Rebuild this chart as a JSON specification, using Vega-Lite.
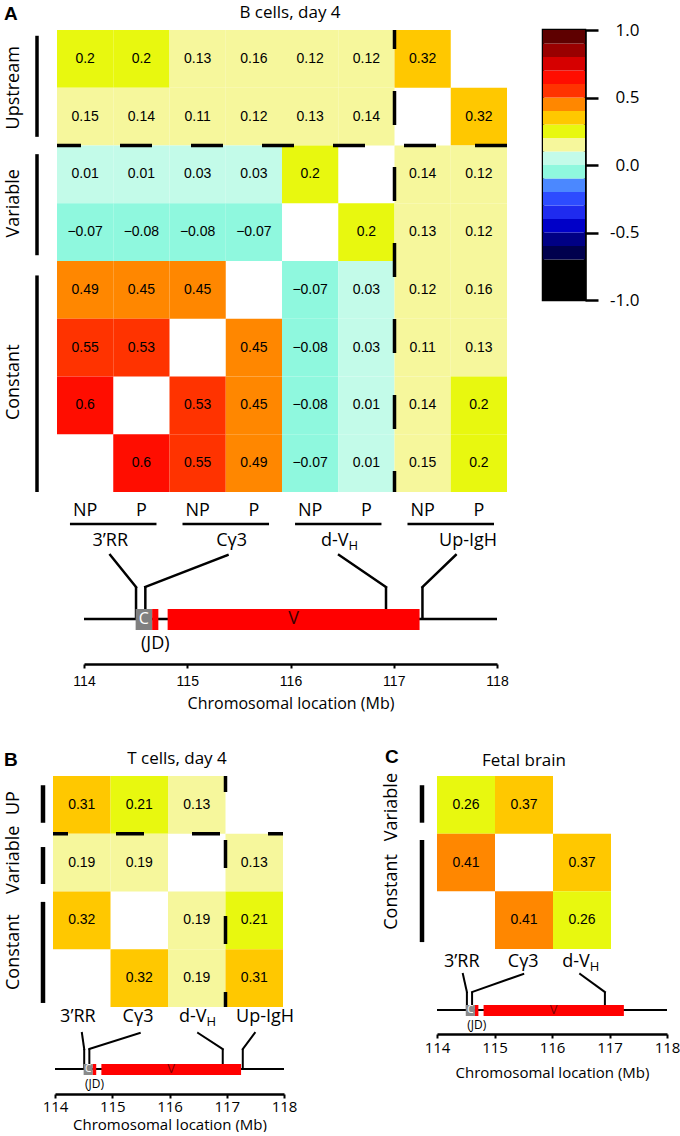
{
"$schema":"https://vega.github.io/schema/vega-lite/v6.json",
"background":"white",
"padding":{"left":0,"top":4,"right":0,"bottom":0},
"config":{
 "view":{"stroke":null},
 "font":"Open Sans",
 "axis":{"labelColor":"black","titleColor":"black","domainColor":"black","tickColor":"black","grid":false,"titleFontWeight":"normal","labelFont":"Open Sans","titleFont":"Open Sans"},
 "title":{"font":"Open Sans","fontWeight":"normal","color":"black","fontSize":17},
 "text":{"color":"black","font":"Open Sans"}
},
"datasets":{
 "heatA":[
  {"row":"Up-IgH P","col":"3’RR NP","r":0.2},{"row":"Up-IgH P","col":"3’RR P","r":0.2},{"row":"Up-IgH P","col":"Cγ3 NP","r":0.13},{"row":"Up-IgH P","col":"Cγ3 P","r":0.16},{"row":"Up-IgH P","col":"d-VH NP","r":0.12},{"row":"Up-IgH P","col":"d-VH P","r":0.12},{"row":"Up-IgH P","col":"Up-IgH NP","r":0.32},
  {"row":"Up-IgH NP","col":"3’RR NP","r":0.15},{"row":"Up-IgH NP","col":"3’RR P","r":0.14},{"row":"Up-IgH NP","col":"Cγ3 NP","r":0.11},{"row":"Up-IgH NP","col":"Cγ3 P","r":0.12},{"row":"Up-IgH NP","col":"d-VH NP","r":0.13},{"row":"Up-IgH NP","col":"d-VH P","r":0.14},{"row":"Up-IgH NP","col":"Up-IgH P","r":0.32},
  {"row":"d-VH P","col":"3’RR NP","r":0.01},{"row":"d-VH P","col":"3’RR P","r":0.01},{"row":"d-VH P","col":"Cγ3 NP","r":0.03},{"row":"d-VH P","col":"Cγ3 P","r":0.03},{"row":"d-VH P","col":"d-VH NP","r":0.2},{"row":"d-VH P","col":"Up-IgH NP","r":0.14},{"row":"d-VH P","col":"Up-IgH P","r":0.12},
  {"row":"d-VH NP","col":"3’RR NP","r":-0.07},{"row":"d-VH NP","col":"3’RR P","r":-0.08},{"row":"d-VH NP","col":"Cγ3 NP","r":-0.08},{"row":"d-VH NP","col":"Cγ3 P","r":-0.07},{"row":"d-VH NP","col":"d-VH P","r":0.2},{"row":"d-VH NP","col":"Up-IgH NP","r":0.13},{"row":"d-VH NP","col":"Up-IgH P","r":0.12},
  {"row":"Cγ3 P","col":"3’RR NP","r":0.49},{"row":"Cγ3 P","col":"3’RR P","r":0.45},{"row":"Cγ3 P","col":"Cγ3 NP","r":0.45},{"row":"Cγ3 P","col":"d-VH NP","r":-0.07},{"row":"Cγ3 P","col":"d-VH P","r":0.03},{"row":"Cγ3 P","col":"Up-IgH NP","r":0.12},{"row":"Cγ3 P","col":"Up-IgH P","r":0.16},
  {"row":"Cγ3 NP","col":"3’RR NP","r":0.55},{"row":"Cγ3 NP","col":"3’RR P","r":0.53},{"row":"Cγ3 NP","col":"Cγ3 P","r":0.45},{"row":"Cγ3 NP","col":"d-VH NP","r":-0.08},{"row":"Cγ3 NP","col":"d-VH P","r":0.03},{"row":"Cγ3 NP","col":"Up-IgH NP","r":0.11},{"row":"Cγ3 NP","col":"Up-IgH P","r":0.13},
  {"row":"3’RR P","col":"3’RR NP","r":0.6},{"row":"3’RR P","col":"Cγ3 NP","r":0.53},{"row":"3’RR P","col":"Cγ3 P","r":0.45},{"row":"3’RR P","col":"d-VH NP","r":-0.08},{"row":"3’RR P","col":"d-VH P","r":0.01},{"row":"3’RR P","col":"Up-IgH NP","r":0.14},{"row":"3’RR P","col":"Up-IgH P","r":0.2},
  {"row":"3’RR NP","col":"3’RR P","r":0.6},{"row":"3’RR NP","col":"Cγ3 NP","r":0.55},{"row":"3’RR NP","col":"Cγ3 P","r":0.49},{"row":"3’RR NP","col":"d-VH NP","r":-0.07},{"row":"3’RR NP","col":"d-VH P","r":0.01},{"row":"3’RR NP","col":"Up-IgH NP","r":0.15},{"row":"3’RR NP","col":"Up-IgH P","r":0.2}
 ],
 "heatB":[
  {"row":"Up-IgH","col":"3’RR","r":0.31},{"row":"Up-IgH","col":"Cγ3","r":0.21},{"row":"Up-IgH","col":"d-VH","r":0.13},
  {"row":"d-VH","col":"3’RR","r":0.19},{"row":"d-VH","col":"Cγ3","r":0.19},{"row":"d-VH","col":"Up-IgH","r":0.13},
  {"row":"Cγ3","col":"3’RR","r":0.32},{"row":"Cγ3","col":"d-VH","r":0.19},{"row":"Cγ3","col":"Up-IgH","r":0.21},
  {"row":"3’RR","col":"Cγ3","r":0.32},{"row":"3’RR","col":"d-VH","r":0.19},{"row":"3’RR","col":"Up-IgH","r":0.31}
 ],
 "heatC":[
  {"row":"d-VH","col":"3’RR","r":0.26},{"row":"d-VH","col":"Cγ3","r":0.37},
  {"row":"Cγ3","col":"3’RR","r":0.41},{"row":"Cγ3","col":"d-VH","r":0.37},
  {"row":"3’RR","col":"Cγ3","r":0.41},{"row":"3’RR","col":"d-VH","r":0.26}
 ],
 "stripA":[{"group":"Upstream","from":0.1,"to":1.85,"mid":1},{"group":"Variable","from":2.15,"to":3.9,"mid":3},{"group":"Constant","from":4.25,"to":8,"mid":6.1}],
 "stripB":[{"group":"UP","from":0.16,"to":0.81,"mid":0.47},{"group":"Variable","from":1.23,"to":1.87,"mid":1.45},{"group":"Constant","from":2.18,"to":3.93,"mid":3.05}],
 "stripC":[{"group":"Variable","from":0.16,"to":0.81,"mid":0.54},{"group":"Constant","from":1.11,"to":2.88,"mid":2.01}],
 "genes":[{"segment":"C","start":114.5,"end":114.66,"mid":114.58},{"segment":"JD","start":114.66,"end":114.72,"mid":114.69},{"segment":"V","start":114.81,"end":117.25,"mid":116.03}],
 "chrom":[{"start":114,"end":118}],
 "regionsA":[
  {"region":"3’RR","label":"3’RR","sub":"","bracket_start":113.864,"bracket_end":114.702,"label_mb":114.254,"top_mb":114.254,"site_mb":114.504},
  {"region":"Cγ3","label":"Cγ3","sub":"","bracket_start":114.954,"bracket_end":115.792,"label_mb":115.43,"top_mb":115.39,"site_mb":114.594},
  {"region":"d-VH","label":"d-V","sub":"H","bracket_start":116.044,"bracket_end":116.881,"label_mb":116.47,"top_mb":116.47,"site_mb":116.925},
  {"region":"Up-IgH","label":"Up-IgH","sub":"","bracket_start":117.133,"bracket_end":117.971,"label_mb":117.72,"top_mb":117.6,"site_mb":117.278}
 ],
 "regionsB":[
  {"region":"3’RR","label":"3’RR","sub":"","label_mb":114.4,"top_mb":114.47,"site_mb":114.51},
  {"region":"Cγ3","label":"Cγ3","sub":"","label_mb":115.45,"top_mb":115.48,"site_mb":114.6},
  {"region":"d-VH","label":"d-V","sub":"H","label_mb":116.48,"top_mb":116.5,"site_mb":116.93},
  {"region":"Up-IgH","label":"Up-IgH","sub":"","label_mb":117.67,"top_mb":117.49,"site_mb":117.28}
 ],
 "regionsC":[
  {"region":"3’RR","label":"3’RR","sub":"","label_mb":114.43,"top_mb":114.45,"site_mb":114.52},
  {"region":"Cγ3","label":"Cγ3","sub":"","label_mb":115.5,"top_mb":115.5,"site_mb":114.61},
  {"region":"d-VH","label":"d-V","sub":"H","label_mb":116.49,"top_mb":116.49,"site_mb":116.92}
 ],
 "colorbar":[
  {"lo":-1,"hi":-0.7},{"lo":-0.7,"hi":-0.6},{"lo":-0.6,"hi":-0.5},{"lo":-0.5,"hi":-0.4},{"lo":-0.4,"hi":-0.3},{"lo":-0.3,"hi":-0.2},{"lo":-0.2,"hi":-0.1},{"lo":-0.1,"hi":0},{"lo":0,"hi":0.1},{"lo":0.1,"hi":0.2},{"lo":0.2,"hi":0.3},{"lo":0.3,"hi":0.4},{"lo":0.4,"hi":0.5},{"lo":0.5,"hi":0.6},{"lo":0.6,"hi":0.7},{"lo":0.7,"hi":0.8},{"lo":0.8,"hi":0.9},{"lo":0.9,"hi":1}
 ]
},
"spacing":36,
"vconcat":[
 {"spacing":2,"vconcat":[
  {"bounds":"flush","spacing":7,"hconcat":[
    {"width":50,"height":462,
     "title":{"text":"A","anchor":"start","fontSize":19,"fontWeight":"bold","font":"Liberation Sans","dx":4,"offset":6},
     "data":{"name":"stripA"},
     "layer":[
      {"mark":{"type":"rule","strokeWidth":3.5,"color":"black"},
       "encoding":{"x":{"datum":"bar","type":"nominal","scale":{"type":"point","domain":["label","bar"],"range":[14,37],"padding":0},"axis":null},
        "y":{"field":"from","type":"quantitative","scale":{"domain":[0,8],"reverse":true,"nice":false,"zero":false},"axis":null},
        "y2":{"field":"to"}}},
      {"mark":{"type":"text","angle":270,"fontSize":18,"align":"center","baseline":"middle"},
       "encoding":{"x":{"datum":"label","type":"nominal"},"y":{"field":"mid","type":"quantitative","axis":null},"text":{"field":"group","type":"nominal"}}}
     ]},
    {"width":450,"height":462,
     "title":{"text":"B cells, day 4","dx":8,"offset":6},
     "layer":[
      {"data":{"name":"heatA"},"mark":{"type":"rect"},
       "encoding":{
        "x":{"field":"col","type":"nominal","scale":{"domain":["3’RR NP","3’RR P","Cγ3 NP","Cγ3 P","d-VH NP","d-VH P","Up-IgH NP","Up-IgH P"],"paddingInner":0,"paddingOuter":0},
             "axis":{"orient":"bottom","title":null,"domain":false,"ticks":false,"labelAngle":0,"labelFontSize":18,"labelPadding":9,"labelExpr":"split(datum.value, ' ')[1]"}},
        "y":{"field":"row","type":"nominal","scale":{"domain":["Up-IgH P","Up-IgH NP","d-VH P","d-VH NP","Cγ3 P","Cγ3 NP","3’RR P","3’RR NP"],"paddingInner":0,"paddingOuter":0},"axis":null},
        "color":{"field":"r","type":"quantitative","legend":null,
          "scale":{"type":"threshold","domain":[-0.7,-0.6,-0.5,-0.4,-0.3,-0.2,-0.1,0,0.1,0.2,0.3,0.4,0.5,0.6,0.7,0.8,0.9],"range":["#000000","#00004d","#000085","#0000c8","#1f2bef","#2d4cff","#4b88ff","#8ff8de","#c3fbe9","#f6f79c","#e8f80f","#ffc800","#ff8700","#ff3300","#ff0d00","#d60000","#990000","#5e0000"]}}}},
      {"data":{"name":"heatA"},"mark":{"type":"text","font":"Liberation Sans","fontSize":14,"color":"black"},
       "encoding":{"x":{"field":"col","type":"nominal"},"y":{"field":"row","type":"nominal"},"text":{"field":"r","type":"quantitative","format":"~g"}}},
      {"data":{"values":[{"row":"d-VH P"}]},"mark":{"type":"rule","strokeWidth":3.5,"strokeDash":[32,39],"color":"black"},
       "encoding":{"y":{"field":"row","type":"nominal","bandPosition":0}}},
      {"data":{"values":[{"col":"Up-IgH NP"}]},"mark":{"type":"rule","strokeWidth":3.5,"strokeDash":[34,42],"strokeDashOffset":15,"color":"black"},
       "encoding":{"x":{"field":"col","type":"nominal","bandPosition":0}}}
     ]},
    {"width":22,"height":10,"data":{"values":[]},"mark":"point"},
    {"width":42,"height":270,
     "view":{"stroke":"black","strokeWidth":2.5},
     "data":{"name":"colorbar"},
     "mark":{"type":"rect"},
     "encoding":{
      "y":{"field":"lo","type":"quantitative","scale":{"domain":[-1,1],"nice":false,"zero":false},
           "axis":{"orient":"right","values":[-1,-0.5,0,0.5,1],"labelExpr":"datum.value < 0 ? '-' + format(-datum.value, '.1f') : format(datum.value, '.1f')","title":null,"tickSize":13,"tickWidth":2.5,"domainWidth":2.5,"labelAlign":"right","labelPadding":41,"labelFontSize":17,"labelFlush":false}},
      "y2":{"field":"hi"},
      "color":{"field":"lo","type":"quantitative","legend":null,
        "scale":{"type":"threshold","domain":[-0.7,-0.6,-0.5,-0.4,-0.3,-0.2,-0.1,0,0.1,0.2,0.3,0.4,0.5,0.6,0.7,0.8,0.9],"range":["#000000","#00004d","#000085","#0000c8","#1f2bef","#2d4cff","#4b88ff","#8ff8de","#c3fbe9","#f6f79c","#e8f80f","#ffc800","#ff8700","#ff3300","#ff0d00","#d60000","#990000","#5e0000"]}}
     }}
  ]},
  {"bounds":"flush","spacing":0,"hconcat":[
   {"width":84,"height":143,"data":{"values":[]},"mark":"point"},
   {"width":413,"height":143,
    "layer":[
     {"data":{"name":"chrom"},"mark":{"type":"rule","strokeWidth":2.5,"color":"black"},
      "encoding":{
       "x":{"field":"start","type":"quantitative","scale":{"domain":[114,118],"nice":false,"zero":false},
            "axis":{"values":[114,115,116,117,118],"format":"d","title":"Chromosomal location (Mb)","titleFontSize":16,"labelFont":"Liberation Sans","labelFontSize":14,"tickSize":4,"tickWidth":2,"domainWidth":2.5,"labelPadding":6,"titlePadding":7,"labelFlush":false}},
       "x2":{"field":"end"},
       "y":{"datum":45,"type":"quantitative","scale":{"domain":[0,143],"nice":false,"zero":false},"axis":null}}},
     {"data":{"name":"regionsA"},"mark":{"type":"rule","strokeWidth":2.5,"color":"black"},
      "encoding":{"x":{"field":"bracket_start","type":"quantitative"},"x2":{"field":"bracket_end"},"y":{"datum":140,"type":"quantitative","axis":null}}},
     {"data":{"name":"regionsA"},"mark":{"type":"rule","strokeWidth":2.5,"color":"black","strokeCap":"square"},
      "encoding":{"x":{"field":"top_mb","type":"quantitative"},"x2":{"field":"site_mb"},"y":{"datum":109,"type":"quantitative","axis":null},"y2":{"datum":77}}},
     {"data":{"name":"regionsA"},"mark":{"type":"rule","strokeWidth":2.5,"color":"black"},
      "encoding":{"x":{"field":"site_mb","type":"quantitative"},"y":{"datum":77,"type":"quantitative","axis":null},"y2":{"datum":45}}},
     {"data":{"name":"genes"},"mark":{"type":"rect"},
      "encoding":{"x":{"field":"start","type":"quantitative"},"x2":{"field":"end"},"y":{"datum":34,"type":"quantitative","axis":null},"y2":{"datum":55},
       "color":{"condition":{"test":"datum.segment === 'C'","value":"#808080"},"value":"#ff0000"}}},
     {"data":{"name":"genes"},"transform":[{"filter":"datum.segment === 'C'"}],"mark":{"type":"text","fontSize":16,"color":"white","baseline":"middle"},
      "encoding":{"x":{"field":"mid","type":"quantitative"},"y":{"datum":45,"type":"quantitative","axis":null},"text":{"field":"segment","type":"nominal"}}},
     {"data":{"name":"genes"},"transform":[{"filter":"datum.segment === 'V'"}],"mark":{"type":"text","fontSize":18,"color":"#3a0000","baseline":"middle"},
      "encoding":{"x":{"field":"mid","type":"quantitative"},"y":{"datum":45,"type":"quantitative","axis":null},"text":{"field":"segment","type":"nominal"}}},
     {"data":{"name":"genes"},"transform":[{"filter":"datum.segment === 'JD'"}],"mark":{"type":"text","fontSize":18,"baseline":"middle"},
      "encoding":{"x":{"field":"mid","type":"quantitative"},"y":{"datum":20,"type":"quantitative","axis":null},"text":{"value":"(JD)"}}},
     {"data":{"name":"regionsA"},"transform":[{"filter":"datum.sub == ''"}],"mark":{"type":"text","fontSize":18,"align":"center","baseline":"middle"},
      "encoding":{"x":{"field":"label_mb","type":"quantitative"},"y":{"datum":123,"type":"quantitative","axis":null},"text":{"field":"label","type":"nominal"}}},
     {"data":{"name":"regionsA"},"transform":[{"filter":"datum.sub != ''"}],"mark":{"type":"text","fontSize":18,"align":"right","baseline":"middle","dx":9.5},
      "encoding":{"x":{"field":"label_mb","type":"quantitative"},"y":{"datum":123,"type":"quantitative","axis":null},"text":{"field":"label","type":"nominal"}}},
     {"data":{"name":"regionsA"},"transform":[{"filter":"datum.sub != ''"}],"mark":{"type":"text","fontSize":13,"align":"left","baseline":"middle","dx":9.5,"dy":5},
      "encoding":{"x":{"field":"label_mb","type":"quantitative"},"y":{"datum":123,"type":"quantitative","axis":null},"text":{"field":"sub","type":"nominal"}}}
    ]}
  ]}
 ]},
 {"spacing":83,"hconcat":[
  {"spacing":-7,"vconcat":[
   {"bounds":"flush","spacing":5,"hconcat":[
    {"width":48,"height":231,
     "title":{"text":"B","anchor":"start","fontSize":19,"fontWeight":"bold","font":"Liberation Sans","dx":4,"offset":6},
     "data":{"name":"stripB"},
     "layer":[
      {"mark":{"type":"rule","strokeWidth":4.5,"color":"black"},
       "encoding":{"x":{"datum":"bar","type":"nominal","scale":{"type":"point","domain":["label","bar"],"range":[14,43],"padding":0},"axis":null},
        "y":{"field":"from","type":"quantitative","scale":{"domain":[0,4],"reverse":true,"nice":false,"zero":false},"axis":null},
        "y2":{"field":"to"}}},
      {"mark":{"type":"text","angle":270,"fontSize":18,"align":"center","baseline":"middle"},
       "encoding":{"x":{"datum":"label","type":"nominal"},"y":{"field":"mid","type":"quantitative","axis":null},"text":{"field":"group","type":"nominal"}}}
     ]},
    {"width":230,"height":231,
     "title":{"text":"T cells, day 4","dx":9,"offset":6},
     "layer":[
      {"data":{"name":"heatB"},"mark":{"type":"rect"},
       "encoding":{
        "x":{"field":"col","type":"nominal","scale":{"domain":["3’RR","Cγ3","d-VH","Up-IgH"],"paddingInner":0,"paddingOuter":0},"axis":null},
        "y":{"field":"row","type":"nominal","scale":{"domain":["Up-IgH","d-VH","Cγ3","3’RR"],"paddingInner":0,"paddingOuter":0},"axis":null},
        "color":{"field":"r","type":"quantitative","legend":null,
          "scale":{"type":"threshold","domain":[-0.7,-0.6,-0.5,-0.4,-0.3,-0.2,-0.1,0,0.1,0.2,0.3,0.4,0.5,0.6,0.7,0.8,0.9],"range":["#000000","#00004d","#000085","#0000c8","#1f2bef","#2d4cff","#4b88ff","#8ff8de","#c3fbe9","#f6f79c","#e8f80f","#ffc800","#ff8700","#ff3300","#ff0d00","#d60000","#990000","#5e0000"]}}}},
      {"data":{"name":"heatB"},"mark":{"type":"text","font":"Liberation Sans","fontSize":14,"color":"black"},
       "encoding":{"x":{"field":"col","type":"nominal"},"y":{"field":"row","type":"nominal"},"text":{"field":"r","type":"quantitative","format":"~g"}}},
      {"data":{"values":[{"row":"d-VH"}]},"mark":{"type":"rule","strokeWidth":3.5,"strokeDash":[28,48],"strokeDashOffset":13,"color":"black"},
       "encoding":{"y":{"field":"row","type":"nominal","bandPosition":0}}},
      {"data":{"values":[{"col":"Up-IgH"}]},"mark":{"type":"rule","strokeWidth":3.5,"strokeDash":[28,48],"strokeDashOffset":12,"color":"black"},
       "encoding":{"x":{"field":"col","type":"nominal","bandPosition":0}}}
     ]}
   ]},
   {"bounds":"flush","spacing":0,"hconcat":[
    {"width":55,"height":85,"data":{"values":[]},"mark":"point"},
    {"width":229,"height":85,
     "layer":[
      {"data":{"name":"chrom"},"mark":{"type":"rule","strokeWidth":2,"color":"black"},
       "encoding":{
        "x":{"field":"start","type":"quantitative","scale":{"domain":[114,118],"nice":false,"zero":false},
             "axis":{"values":[114,115,116,117,118],"format":"d","title":"Chromosomal location (Mb)","titleFontSize":15,"labelFontSize":15,"tickSize":4,"tickWidth":2,"domainWidth":2.5,"labelPadding":1,"titlePadding":3,"labelFlush":false}},
        "x2":{"field":"end"},
        "y":{"datum":25,"type":"quantitative","scale":{"domain":[0,85],"nice":false,"zero":false},"axis":null}}},
      {"data":{"name":"regionsB"},"mark":{"type":"rule","strokeWidth":2,"color":"black","strokeCap":"square"},
       "encoding":{"x":{"field":"top_mb","type":"quantitative"},"x2":{"field":"site_mb"},"y":{"datum":61,"type":"quantitative","axis":null},"y2":{"datum":45}}},
      {"data":{"name":"regionsB"},"mark":{"type":"rule","strokeWidth":2,"color":"black"},
       "encoding":{"x":{"field":"site_mb","type":"quantitative"},"y":{"datum":45,"type":"quantitative","axis":null},"y2":{"datum":25}}},
      {"data":{"name":"genes"},"mark":{"type":"rect"},
       "encoding":{"x":{"field":"start","type":"quantitative"},"x2":{"field":"end"},"y":{"datum":19,"type":"quantitative","axis":null},"y2":{"datum":30},
        "color":{"condition":{"test":"datum.segment === 'C'","value":"#8a8a8a"},"value":"#ff0000"}}},
      {"data":{"name":"genes"},"transform":[{"filter":"datum.segment === 'C'"}],"mark":{"type":"text","fontSize":10,"color":"white","baseline":"middle"},
       "encoding":{"x":{"field":"mid","type":"quantitative"},"y":{"datum":25,"type":"quantitative","axis":null},"text":{"field":"segment","type":"nominal"}}},
      {"data":{"name":"genes"},"transform":[{"filter":"datum.segment === 'V'"}],"mark":{"type":"text","fontSize":13,"color":"#800000","baseline":"middle"},
       "encoding":{"x":{"field":"mid","type":"quantitative"},"y":{"datum":25,"type":"quantitative","axis":null},"text":{"field":"segment","type":"nominal"}}},
      {"data":{"name":"genes"},"transform":[{"filter":"datum.segment === 'JD'"}],"mark":{"type":"text","fontSize":12,"baseline":"middle"},
       "encoding":{"x":{"field":"mid","type":"quantitative"},"y":{"datum":10,"type":"quantitative","axis":null},"text":{"value":"(JD)"}}},
      {"data":{"name":"regionsB"},"transform":[{"filter":"datum.sub == ''"}],"mark":{"type":"text","fontSize":18,"align":"center","baseline":"middle"},
       "encoding":{"x":{"field":"label_mb","type":"quantitative"},"y":{"datum":77,"type":"quantitative","axis":null},"text":{"field":"label","type":"nominal"}}},
      {"data":{"name":"regionsB"},"transform":[{"filter":"datum.sub != ''"}],"mark":{"type":"text","fontSize":18,"align":"right","baseline":"middle","dx":9.5},
       "encoding":{"x":{"field":"label_mb","type":"quantitative"},"y":{"datum":77,"type":"quantitative","axis":null},"text":{"field":"label","type":"nominal"}}},
      {"data":{"name":"regionsB"},"transform":[{"filter":"datum.sub != ''"}],"mark":{"type":"text","fontSize":13,"align":"left","baseline":"middle","dx":9.5,"dy":5},
       "encoding":{"x":{"field":"label_mb","type":"quantitative"},"y":{"datum":77,"type":"quantitative","axis":null},"text":{"field":"sub","type":"nominal"}}}
     ]}
   ]}
  ]},
  {"spacing":-1,"vconcat":[
   {"bounds":"flush","spacing":7,"hconcat":[
    {"width":50,"height":173,
     "title":{"text":"C","anchor":"start","fontSize":19,"fontWeight":"bold","font":"Liberation Sans","dx":5,"offset":6},
     "data":{"name":"stripC"},
     "layer":[
      {"mark":{"type":"rule","strokeWidth":4.5,"color":"black"},
       "encoding":{"x":{"datum":"bar","type":"nominal","scale":{"type":"point","domain":["label","bar"],"range":[12,42],"padding":0},"axis":null},
        "y":{"field":"from","type":"quantitative","scale":{"domain":[0,3],"reverse":true,"nice":false,"zero":false},"axis":null},
        "y2":{"field":"to"}}},
      {"mark":{"type":"text","angle":270,"fontSize":18,"align":"center","baseline":"middle"},
       "encoding":{"x":{"datum":"label","type":"nominal"},"y":{"field":"mid","type":"quantitative","axis":null},"text":{"field":"group","type":"nominal"}}}
     ]},
    {"width":174,"height":173,
     "title":{"text":"Fetal brain","offset":6},
     "layer":[
      {"data":{"name":"heatC"},"mark":{"type":"rect"},
       "encoding":{
        "x":{"field":"col","type":"nominal","scale":{"domain":["3’RR","Cγ3","d-VH"],"paddingInner":0,"paddingOuter":0},"axis":null},
        "y":{"field":"row","type":"nominal","scale":{"domain":["d-VH","Cγ3","3’RR"],"paddingInner":0,"paddingOuter":0},"axis":null},
        "color":{"field":"r","type":"quantitative","legend":null,
          "scale":{"type":"threshold","domain":[-0.7,-0.6,-0.5,-0.4,-0.3,-0.2,-0.1,0,0.1,0.2,0.3,0.4,0.5,0.6,0.7,0.8,0.9],"range":["#000000","#00004d","#000085","#0000c8","#1f2bef","#2d4cff","#4b88ff","#8ff8de","#c3fbe9","#f6f79c","#e8f80f","#ffc800","#ff8700","#ff3300","#ff0d00","#d60000","#990000","#5e0000"]}}}},
      {"data":{"name":"heatC"},"mark":{"type":"text","font":"Liberation Sans","fontSize":14,"color":"black"},
       "encoding":{"x":{"field":"col","type":"nominal"},"y":{"field":"row","type":"nominal"},"text":{"field":"r","type":"quantitative","format":"~g"}}}
     ]}
   ]},
   {"bounds":"flush","spacing":0,"hconcat":[
    {"width":57,"height":85,"data":{"values":[]},"mark":"point"},
    {"width":230,"height":85,
     "layer":[
      {"data":{"name":"chrom"},"mark":{"type":"rule","strokeWidth":2,"color":"black"},
       "encoding":{
        "x":{"field":"start","type":"quantitative","scale":{"domain":[114,118],"nice":false,"zero":false},
             "axis":{"values":[114,115,116,117,118],"format":"d","title":"Chromosomal location (Mb)","titleFontSize":15,"labelFontSize":15,"tickSize":4,"tickWidth":2,"domainWidth":2.5,"labelPadding":2,"titlePadding":10,"labelFlush":false}},
        "x2":{"field":"end"},
        "y":{"datum":24,"type":"quantitative","scale":{"domain":[0,85],"nice":false,"zero":false},"axis":null}}},
      {"data":{"name":"regionsC"},"mark":{"type":"rule","strokeWidth":2,"color":"black","strokeCap":"square"},
       "encoding":{"x":{"field":"top_mb","type":"quantitative"},"x2":{"field":"site_mb"},"y":{"datum":60,"type":"quantitative","axis":null},"y2":{"datum":42}}},
      {"data":{"name":"regionsC"},"mark":{"type":"rule","strokeWidth":2,"color":"black"},
       "encoding":{"x":{"field":"site_mb","type":"quantitative"},"y":{"datum":42,"type":"quantitative","axis":null},"y2":{"datum":24}}},
      {"data":{"name":"genes"},"mark":{"type":"rect"},
       "encoding":{"x":{"field":"start","type":"quantitative"},"x2":{"field":"end"},"y":{"datum":18,"type":"quantitative","axis":null},"y2":{"datum":29},
        "color":{"condition":{"test":"datum.segment === 'C'","value":"#8a8a8a"},"value":"#ff0000"}}},
      {"data":{"name":"genes"},"transform":[{"filter":"datum.segment === 'C'"}],"mark":{"type":"text","fontSize":10,"color":"white","baseline":"middle"},
       "encoding":{"x":{"field":"mid","type":"quantitative"},"y":{"datum":24,"type":"quantitative","axis":null},"text":{"field":"segment","type":"nominal"}}},
      {"data":{"name":"genes"},"transform":[{"filter":"datum.segment === 'V'"}],"mark":{"type":"text","fontSize":13,"color":"#800000","baseline":"middle"},
       "encoding":{"x":{"field":"mid","type":"quantitative"},"y":{"datum":24,"type":"quantitative","axis":null},"text":{"field":"segment","type":"nominal"}}},
      {"data":{"name":"genes"},"transform":[{"filter":"datum.segment === 'JD'"}],"mark":{"type":"text","fontSize":12,"baseline":"middle"},
       "encoding":{"x":{"field":"mid","type":"quantitative"},"y":{"datum":9,"type":"quantitative","axis":null},"text":{"value":"(JD)"}}},
      {"data":{"name":"regionsC"},"transform":[{"filter":"datum.sub == ''"}],"mark":{"type":"text","fontSize":18,"align":"center","baseline":"middle"},
       "encoding":{"x":{"field":"label_mb","type":"quantitative"},"y":{"datum":72,"type":"quantitative","axis":null},"text":{"field":"label","type":"nominal"}}},
      {"data":{"name":"regionsC"},"transform":[{"filter":"datum.sub != ''"}],"mark":{"type":"text","fontSize":18,"align":"right","baseline":"middle","dx":9.5},
       "encoding":{"x":{"field":"label_mb","type":"quantitative"},"y":{"datum":72,"type":"quantitative","axis":null},"text":{"field":"label","type":"nominal"}}},
      {"data":{"name":"regionsC"},"transform":[{"filter":"datum.sub != ''"}],"mark":{"type":"text","fontSize":13,"align":"left","baseline":"middle","dx":9.5,"dy":5},
       "encoding":{"x":{"field":"label_mb","type":"quantitative"},"y":{"datum":72,"type":"quantitative","axis":null},"text":{"field":"sub","type":"nominal"}}}
     ]}
   ]}
  ]}
 ]}
]
}
